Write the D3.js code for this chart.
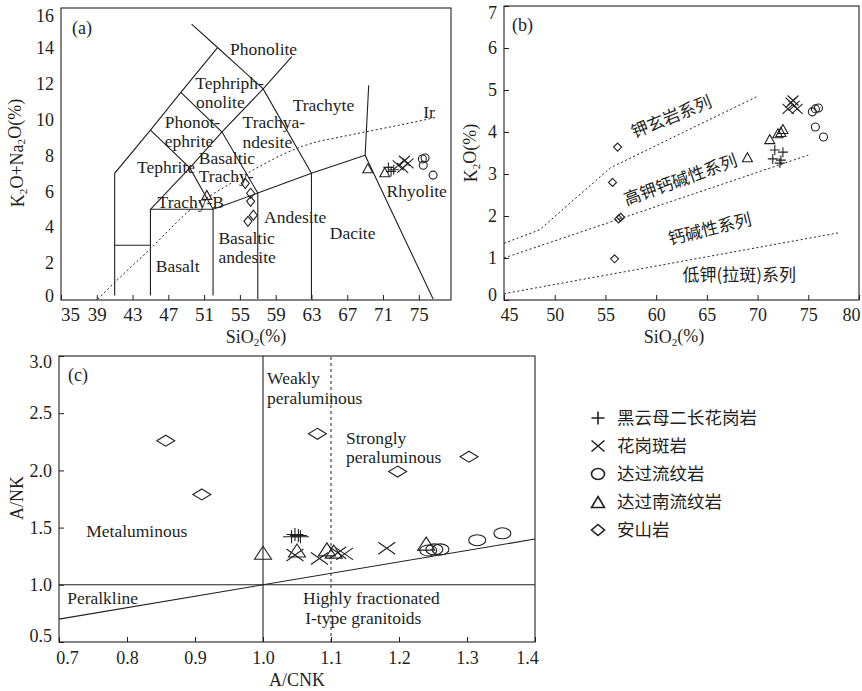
<!DOCTYPE html>
<html>
<head>
<meta charset="utf-8">
<script src="https://cdn.jsdelivr.net/npm/d3@7"></script>
<style>
body { margin: 0; background: #fff; }
</style>
</head>
<body>
<div id="chart"></div>
<script>
var width = 862;
var height = 691;

var ink = "#231f20";
var serif = '"Liberation Serif", "Times New Roman", serif';
var cjk = '"Noto Sans CJK SC", sans-serif';

// series (same order everywhere)
var seriesNames = ["黑云母二长花岗岩", "花岗斑岩", "达过流纹岩", "达过南流纹岩", "安山岩"];
var seriesShapes = ["plus", "cross", "circle", "triangle", "diamond"];

// (a) TAS: SiO2 vs K2O+Na2O
var tasTicksX = [35, 39, 43, 47, 51, 55, 59, 63, 67, 71, 75];
var tasTicksY = [0, 2, 4, 6, 8, 10, 12, 14, 16];
var tasBiotite = [[71.6, 7.33], [71.9, 7.1], [72.2, 7.2]];
var tasPorphyry = [[72.7, 7.44], [73.2, 7.3], [73.4, 7.7], [73.8, 7.55]];
var tasDaguo = [[75.4, 7.8], [75.7, 7.85], [75.5, 7.45], [76.6, 6.9]];
var tasDaguonan = [[69.3, 7.28], [71.2, 7.06], [51.3, 5.8]];
var tasAndesite = [[55.6, 6.44], [56.2, 5.89], [56.2, 5.44], [56.5, 4.67], [55.9, 4.33]];

var tasFields = [
	[[41, 0.2], [41, 7], [45, 9.4], [48.4, 11.5], [52.5, 14]],
	[[49.6, 15.3], [52.5, 14], [57.6, 11.7], [63, 7]],
	[[60.8, 13.5], [57.6, 11.7], [53, 9.3], [49.4, 7.3], [45, 5]],
	[[45, 9.4], [49.4, 7.3], [52, 5]],
	[[48.4, 11.5], [53, 9.3], [57, 5.9]],
	[[41, 3], [45, 3]],
	[[45, 0.2], [45, 5], [52, 5], [52, 0.2]],
	[[52, 5], [57, 5.9], [63, 7], [69, 8]],
	[[57, 0], [57, 5.9]],
	[[63, 0], [63, 7]],
	[[69.4, 11.9], [69, 8], [76.6, 0]]
];
var irvineLine = [[39.1, 0], [42, 1.4], [45, 2.8], [48, 4.3], [50, 5.2], [52, 5.85], [54, 6.45],
	[56, 7.05], [58, 7.6], [60, 8.1], [62, 8.5], [64, 8.8], [66, 9.0], [68, 9.2], [70, 9.4],
	[72, 9.6], [74, 9.8], [76.8, 10.1]];
var tasLabels = [
	["Phonolite", 53.9, 13.9], ["Tephriph-", 50.0, 12.05], ["onolite", 50.1, 11.0],
	["Trachyte", 60.9, 10.8], ["Phonot-", 46.6, 9.85], ["ephrite", 46.6, 8.8],
	["Trachya-", 55.3, 9.85], ["ndesite", 55.3, 8.75], ["Basaltic", 50.4, 7.88],
	["Tephrite", 43.5, 7.38], ["Trachy-", 50.4, 6.83], ["Trachy-B", 45.8, 5.4],
	["Andesite", 57.7, 4.55], ["Dacite", 65.05, 3.66], ["Basaltic", 52.6, 3.4],
	["andesite", 52.6, 2.36], ["Basalt", 45.6, 1.83], ["Rhyolite", 71.4, 6.05], ["Ir", 75.5, 10.4]
];

// (b) SiO2 vs K2O
var kTicksX = [45, 50, 55, 60, 65, 70, 75, 80];
var kTicksY = [0, 1, 2, 3, 4, 5, 6, 7];
var kBiotite = [[71.7, 3.57], [72.5, 3.52], [71.5, 3.36], [72.3, 3.33], [72.2, 3.26]];
var kPorphyry = [[73.0, 4.55], [73.3, 4.7], [73.5, 4.75], [73.6, 4.62], [73.9, 4.55]];
var kDaguo = [[75.4, 4.48], [75.7, 4.55], [76.0, 4.57], [75.7, 4.12], [76.5, 3.88]];
var kDaguonan = [[69.0, 3.4], [71.2, 3.83], [72.0, 3.97], [72.3, 4.0], [72.5, 4.07]];
var kAndesite = [[56.2, 3.64], [55.7, 2.8], [56.3, 1.93], [56.5, 1.97], [55.9, 0.98]];
var kLineSho = [[45, 1.35], [48.5, 1.67], [55.5, 3.15], [70, 4.85]];
var kLineHK = [[45, 1.0], [75, 3.45]];
var kLineCA = [[45, 0.15], [78, 1.6]];
var kLabels = [
	["钾玄岩系列", 61.5, 4.36, -22], ["高钾钙碱性系列", 62.4, 2.86, -20],
	["钙碱性系列", 65.3, 1.69, -14], ["低钾(拉斑)系列", 68.2, 0.6, 0]
];

// (c) A/CNK vs A/NK
var aTicksX = [0.7, 0.8, 0.9, 1.0, 1.1, 1.2, 1.3, 1.4];
var aTicksY = [0.5, 1.0, 1.5, 2.0, 2.5, 3.0];
var aBiotite = [[1.042, 1.42], [1.047, 1.44], [1.052, 1.43], [1.055, 1.42]];
var aPorphyry = [[1.047, 1.26], [1.083, 1.23], [1.11, 1.28], [1.12, 1.27], [1.182, 1.32]];
var aDaguo = [[1.243, 1.30], [1.252, 1.31], [1.261, 1.31], [1.315, 1.39], [1.352, 1.45]];
var aDaguonan = [[1.0, 1.28], [1.05, 1.30], [1.094, 1.31], [1.104, 1.29], [1.24, 1.36]];
var aAndesite = [[0.857, 2.26], [0.91, 1.79], [1.08, 2.32], [1.198, 1.99], [1.303, 2.12]];
var aLabels = [
	["Weakly", 1.006, 2.807], ["peraluminous", 1.006, 2.63], ["Strongly", 1.122, 2.28],
	["peraluminous", 1.122, 2.114], ["Metaluminous", 0.74, 1.47], ["Peralkline", 0.712, 0.886],
	["Highly fractionated", 1.059, 0.886], ["I-type granitoids", 1.062, 0.71]
];

var svg = d3.select("#chart")
	.append("svg")
	.attr("width", width)
	.attr("height", height)
	.style("background", "#fff");

// marker outline centred on 0,0, w x h box
function shape(type, w, h) {
	var a = w / 2, b = h / 2;
	if (type == "plus") return "M" + (-a) + ",0H" + a + "M0," + (-b) + "V" + b;
	if (type == "cross") return "M" + (-a) + "," + (-b) + "L" + a + "," + b + "M" + (-a) + "," + b + "L" + a + "," + (-b);
	if (type == "circle") return "M" + (-a) + ",0A" + a + "," + b + " 0 1,0 " + a + ",0A" + a + "," + b + " 0 1,0 " + (-a) + ",0Z";
	if (type == "triangle") return "M0," + (-b) + "L" + a + "," + b + "L" + (-a) + "," + b + "Z";
	return "M0," + (-b) + "L" + a + ",0L0," + b + "L" + (-a) + ",0Z";
}

function sub(sel, parts) {
	// parts: [text, isSubscript, backUp]
	parts.forEach(function(p) {
		var t = sel.append("tspan").text(p[0]);
		if (p[1]) t.attr("font-size", "0.62em").attr("dy", "0.25em");
		else if (p[2]) t.attr("dy", "-0.25em");
	});
}

function makePanel(p) {
	var x = d3.scaleLinear().domain(p.xDomain).range([p.left, p.right]);
	var y = d3.scaleLinear().domain(p.yDomain).range([p.bottom, p.top]);
	var g = svg.append("g");

	var xa = d3.axisBottom(x)
		.tickValues(p.xTicks)
		.tickFormat(p.xFmt)
		.tickSizeInner(-5)
		.tickSizeOuter(0)
		.tickPadding(p.xPad);
	var gx = g.append("g")
		.attr("transform", "translate(0," + p.bottom + ")")
		.style("color", ink)
		.call(xa);
	gx.select(".domain").remove();
	gx.selectAll("text")
		.attr("font-family", serif)
		.attr("font-size", p.xSize)
		.attr("fill", ink)
		.attr("dx", function(d, i, n) {
			if (i == 0) return p.xNudge[0];
			if (i == n.length - 1) return p.xNudge[1];
			return 0;
		});

	var ya = d3.axisLeft(y)
		.tickValues(p.yTicks)
		.tickFormat(p.yFmt)
		.tickSizeInner(p.yTickLen)
		.tickSizeOuter(0)
		.tickPadding(7);
	var gy = g.append("g")
		.attr("transform", "translate(" + p.left + ",0)")
		.style("color", ink)
		.call(ya);
	gy.select(".domain").remove();
	gy.selectAll("text")
		.attr("font-family", serif)
		.attr("font-size", 18)
		.attr("fill", ink)
		.attr("x", -7)
		.attr("dy", function(d, i, n) {
			if (i == 0) return (0.32 * 18 + p.yNudge[0]) + "px";
			if (i == n.length - 1) return (0.32 * 18 + p.yNudge[1]) + "px";
			return "0.32em";
		});

	g.append("rect")
		.attr("x", p.left)
		.attr("y", p.top)
		.attr("width", p.right - p.left)
		.attr("height", p.bottom - p.top)
		.attr("fill", "none")
		.attr("stroke", ink)
		.attr("stroke-width", 1.1);

	return { x: x, y: y, g: g };
}

function drawLines(P, lines, dash, curve) {
	var line = d3.line()
		.x(function(d) { return P.x(d[0]); })
		.y(function(d) { return P.y(d[1]); });
	if (curve) line.curve(curve);
	P.g.selectAll(null)
		.data(lines)
		.enter()
		.append("path")
		.attr("d", line)
		.attr("fill", "none")
		.attr("stroke", ink)
		.attr("stroke-width", dash ? 1 : 1.1)
		.attr("stroke-dasharray", dash || null);
}

function drawPoints(P, sets, sizes) {
	sets.forEach(function(arr, k) {
		P.g.selectAll(null)
			.data(arr)
			.enter()
			.append("path")
			.attr("transform", function(d) {
				return "translate(" + P.x(d[0]) + "," + P.y(d[1]) + ")";
			})
			.attr("d", shape(seriesShapes[k], sizes[k][0], sizes[k][1]))
			.attr("fill", "none")
			.attr("stroke", ink)
			.attr("stroke-width", 1.1);
	});
}

function drawText(P, labels, size) {
	P.g.selectAll(null)
		.data(labels)
		.enter()
		.append("text")
		.attr("x", function(d) { return P.x(d[1]); })
		.attr("y", function(d) { return P.y(d[2]); })
		.attr("dy", "0.35em")
		.attr("font-family", serif)
		.attr("font-size", size)
		.attr("fill", ink)
		.text(function(d) { return d[0]; });
}

// ---------- (a) ----------
var A = makePanel({
	left: 61, right: 451, top: 8, bottom: 300,
	xDomain: [35, 78.6], yDomain: [-0.05, 16.2],
	xTicks: tasTicksX, yTicks: tasTicksY,
	xFmt: d3.format("d"), yFmt: d3.format("d"),
	xPad: 8, xSize: 19, xNudge: [9, 0], yNudge: [-3, 4], yTickLen: 0
});
drawLines(A, tasFields, null);
drawLines(A, [irvineLine], "2,2.5", d3.curveMonotoneX);
drawText(A, tasLabels, 17.5);
drawPoints(A, [tasBiotite, tasPorphyry, tasDaguo, tasDaguonan, tasAndesite],
	[[10, 10], [11, 10], [8, 8], [10, 9], [8, 10]]);

// ---------- (b) ----------
var B = makePanel({
	left: 504, right: 859, top: 6, bottom: 300,
	xDomain: [45, 80], yDomain: [0, 7],
	xTicks: kTicksX, yTicks: kTicksY,
	xFmt: d3.format("d"), yFmt: d3.format("d"),
	xPad: 8, xSize: 18, xNudge: [5, -8], yNudge: [-5, 7], yTickLen: -5
});
drawLines(B, [kLineSho, kLineHK, kLineCA], "2,2.5");
B.g.selectAll(null)
	.data(kLabels)
	.enter()
	.append("text")
	.attr("transform", function(d) {
		return "translate(" + B.x(d[1]) + "," + B.y(d[2]) + ") rotate(" + d[3] + ")";
	})
	.attr("text-anchor", "middle")
	.attr("dy", "0.35em")
	.attr("font-family", cjk)
	.attr("font-size", 17)
	.attr("fill", ink)
	.text(function(d) { return d[0]; });
drawPoints(B, [kBiotite, kPorphyry, kDaguo, kDaguonan, kAndesite],
	[[10, 10], [11, 10], [8, 8], [10, 9], [8, 8]]);

// ---------- (c) ----------
var C = makePanel({
	left: 59, right: 535, top: 356, bottom: 642,
	xDomain: [0.7, 1.4], yDomain: [0.5, 3.0],
	xTicks: aTicksX, yTicks: aTicksY,
	xFmt: d3.format(".1f"), yFmt: d3.format(".1f"),
	xPad: 9, xSize: 18, xNudge: [8, -8], yNudge: [-6, 6], yTickLen: -5
});
drawLines(C, [[[1.0, 0.5], [1.0, 3.0]], [[0.7, 1.0], [1.4, 1.0]], [[0.7, 0.7], [1.4, 1.4]]], null);
drawLines(C, [[[1.1, 0.5], [1.1, 3.0]]], "3,3");
drawText(C, aLabels, 17.5);
drawPoints(C, [aBiotite, aPorphyry, aDaguo, aDaguonan, aAndesite],
	[[17, 13], [17, 12], [17, 11], [17, 13], [18, 11]]);

// panel tags
[["(a)", 72, 28], ["(b)", 512, 25], ["(c)", 68, 375]].forEach(function(t) {
	svg.append("text")
		.attr("x", t[1]).attr("y", t[2]).attr("dy", "0.35em")
		.attr("font-family", serif).attr("font-size", 18).attr("fill", ink)
		.text(t[0]);
});

// axis titles
function title(x, y, rot, parts) {
	var t = svg.append("text")
		.attr("transform", "translate(" + x + "," + y + ")" + (rot ? " rotate(-90)" : ""))
		.attr("text-anchor", "middle")
		.attr("dy", "0.35em")
		.attr("font-family", serif)
		.attr("font-size", 18)
		.attr("fill", ink);
	sub(t, parts);
}
title(256, 337, false, [["SiO"], ["2", true], ["(%)", false, true]]);
title(674, 337, false, [["SiO"], ["2", true], ["(%)", false, true]]);
title(297, 680, false, [["A/CNK"]]);
title(18, 153, true, [["K"], ["2", true], ["O+Na", false, true], ["2", true], ["O(%)", false, true]]);
title(471, 153, true, [["K"], ["2", true], ["O(%)", false, true]]);
title(17, 498, true, [["A/NK"]]);

// legend
var legend = svg.append("g");
seriesNames.forEach(function(name, i) {
	var ly = 418 + i * 28;
	legend.append("path")
		.attr("transform", "translate(598," + ly + ")")
		.attr("d", shape(seriesShapes[i], 13, i == 0 ? 13 : 11))
		.attr("fill", "none")
		.attr("stroke", ink)
		.attr("stroke-width", 1.6);
	legend.append("text")
		.attr("x", 617)
		.attr("y", ly)
		.attr("dy", "0.35em")
		.attr("font-family", cjk)
		.attr("font-size", 17.5)
		.attr("fill", ink)
		.text(name);
});
</script>
</body>
</html>
